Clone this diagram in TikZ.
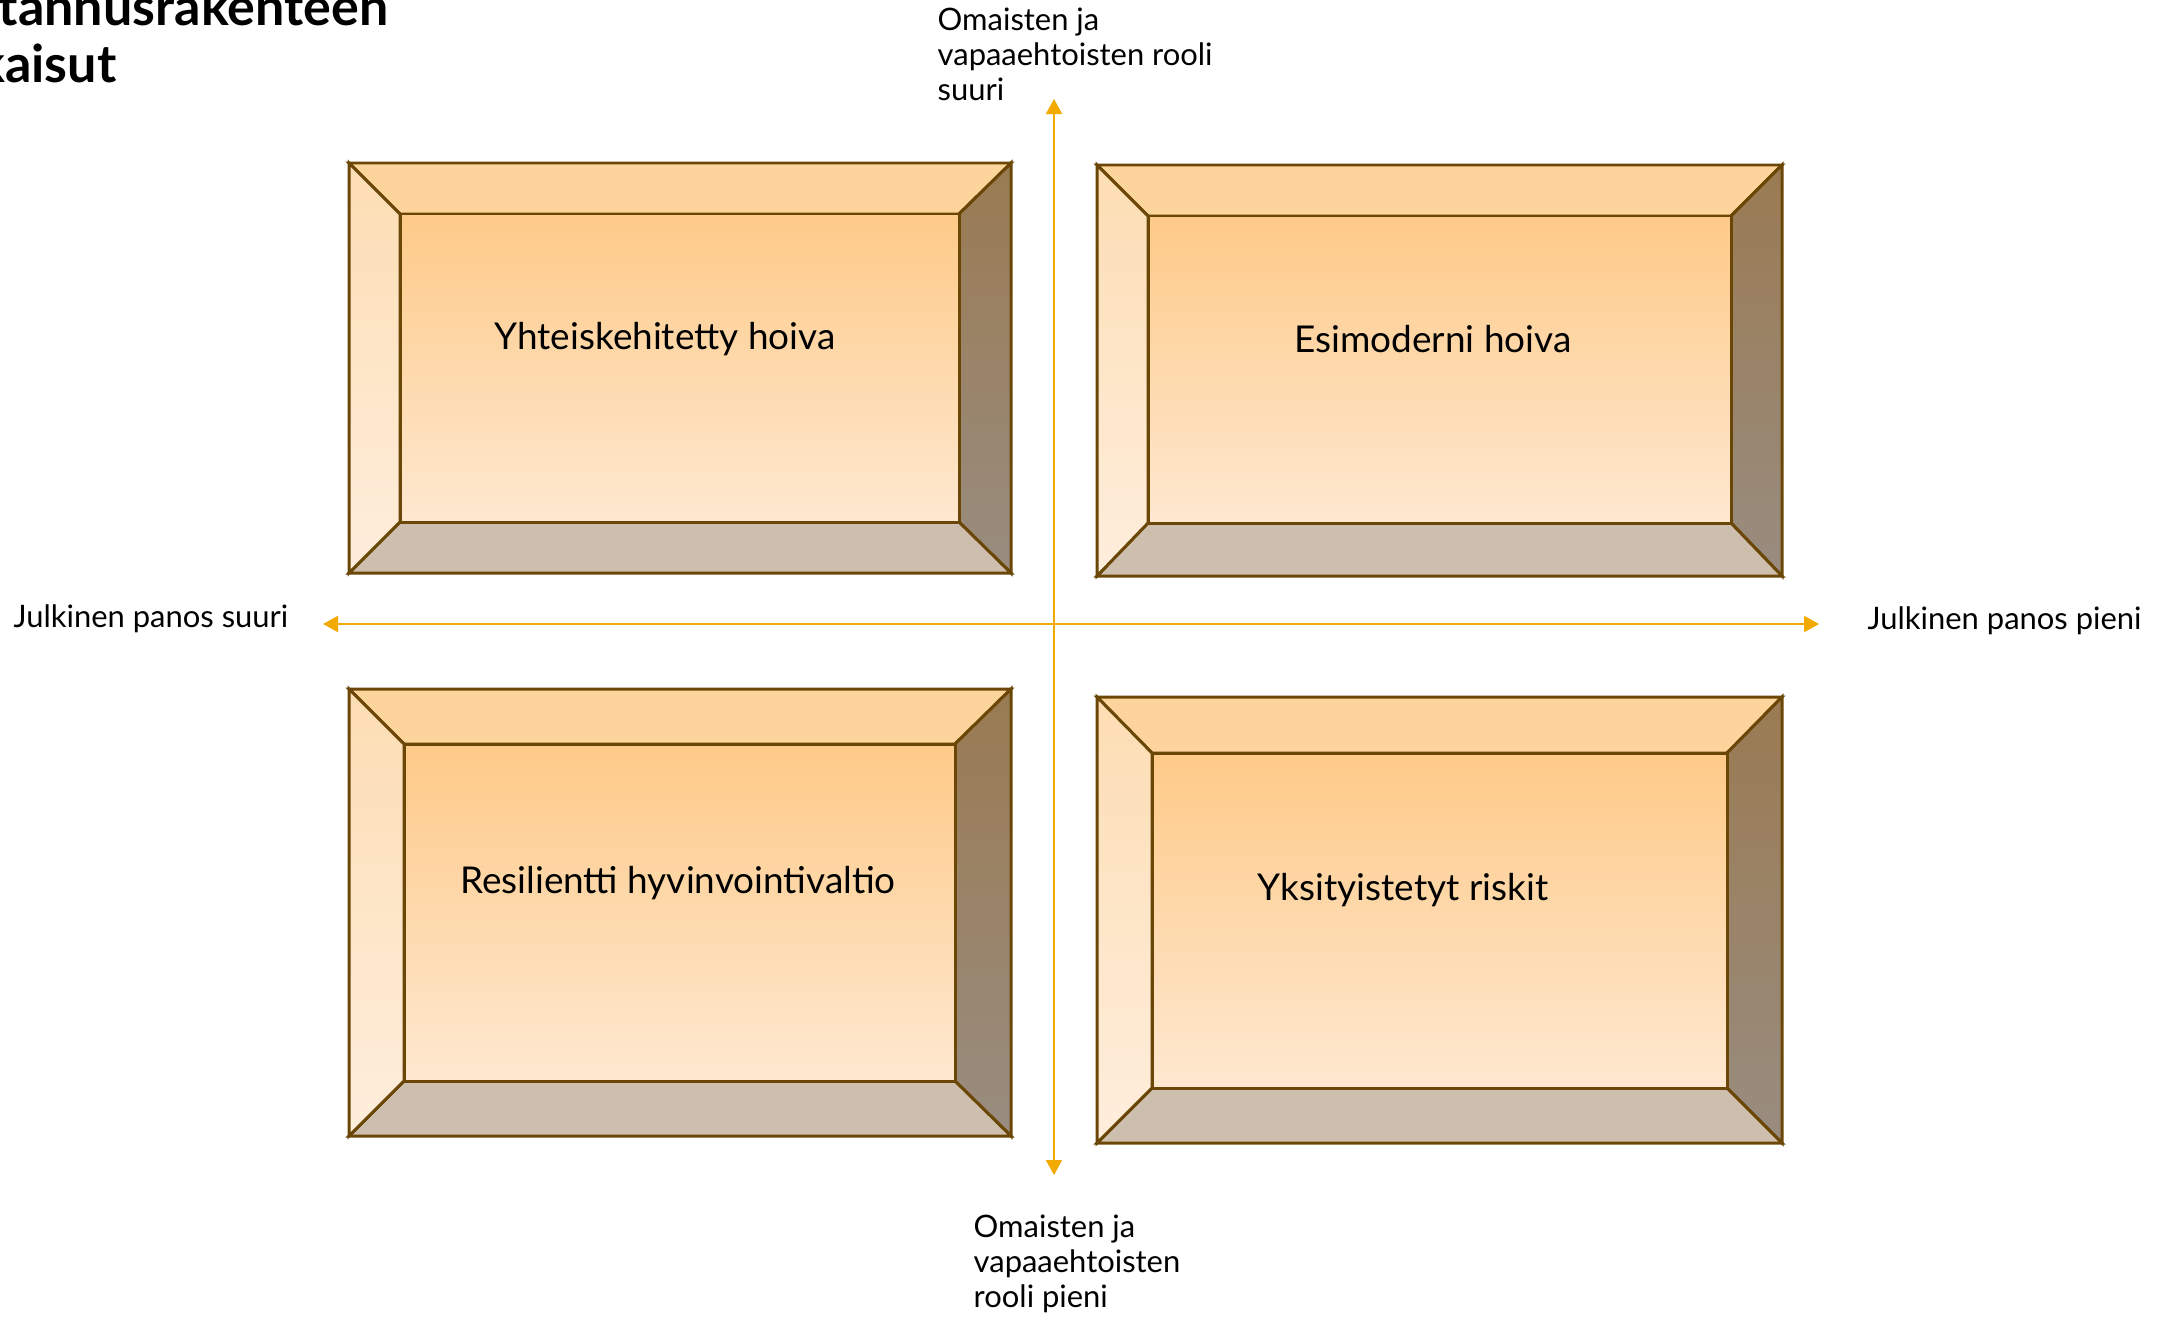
\documentclass[tikz,border=0pt]{standalone}
\usepackage{fontspec}
\setmainfont{Lato}
\usetikzlibrary{arrows.meta}

\definecolor{rim}{HTML}{6A4706}
\definecolor{axis}{HTML}{F2A900}
\definecolor{topface}{HTML}{FDD49B}
\definecolor{botface}{HTML}{CDBEAD}

\tikzset{
  bevel/.style={draw=rim,line width=0.85pt,line join=miter},
  axisline/.style={draw=axis,line width=0.6pt,{Triangle[width=0.16cm,length=0.15cm]}-{Triangle[width=0.16cm,length=0.15cm]}},
  axislabel/.style={font=\fontsize{8.8}{9.95}\selectfont,align=left,inner sep=0pt,anchor=base west},
  boxlabel/.style={font=\fontsize{10.5}{12}\selectfont,inner sep=0pt}
}

% outer x1,y1,x2,y2 then inner x1,y1,x2,y2
\newcommand{\bevelbox}[8]{
  \coordinate (o1) at (#1,#2);
  \coordinate (o2) at (#3,#2);
  \coordinate (o3) at (#3,#4);
  \coordinate (o4) at (#1,#4);
  \coordinate (i1) at (#5,#6);
  \coordinate (i2) at (#7,#6);
  \coordinate (i3) at (#7,#8);
  \coordinate (i4) at (#5,#8);
  \draw[bevel,fill=topface] (o1) -- (o2) -- (i2) -- (i1) -- cycle;
  \shade[top color={rgb,255:red,154;green,123;blue,82},bottom color={rgb,255:red,153;green,140;blue,128}] (o2) -- (o3) -- (i3) -- (i2) -- cycle;
  \draw[bevel] (o2) -- (o3) -- (i3) -- (i2) -- cycle;
  \draw[bevel,fill=botface] (o4) -- (o3) -- (i3) -- (i4) -- cycle;
  \shade[top color={rgb,255:red,253;green,221;blue,179},bottom color={rgb,255:red,254;green,238;blue,221}] (o1) -- (o4) -- (i4) -- (i1) -- cycle;
  \draw[bevel] (o1) -- (o4) -- (i4) -- (i1) -- cycle;
  \shade[top color={rgb,255:red,254;green,202;blue,136},bottom color={rgb,255:red,254;green,232;blue,208}] (i1) rectangle (i3);
  \draw[bevel] (i1) rectangle (i3);
}

\begin{document}
\begin{tikzpicture}[x=0.01cm,y=-0.01cm]
  \useasboundingbox (0,0) rectangle (2161,1318);

  % title, cut at the left edge
  \node[font=\bfseries\fontsize{14.8}{15}\selectfont,inner sep=0pt,anchor=base west] (title1) at (-2,25) {tannusrakenteen};
  \node[font=\bfseries\fontsize{14.8}{15}\selectfont,inner sep=0pt,anchor=base east] (title2) at (117,82) {kaisut};

  % quadrants
  \bevelbox{349}{163}{1011}{573}{400}{214}{959}{522}
  \bevelbox{1097}{165}{1782}{576}{1148}{216}{1731}{523}
  \bevelbox{349}{689}{1011}{1136}{404}{744}{955}{1081}
  \bevelbox{1097}{697}{1782}{1143}{1152}{753}{1727}{1088}

  \node[boxlabel] (coop) at (665,339) {Yhteiskehitetty hoiva};
  \node[boxlabel] (premod) at (1433,339) {Esimoderni hoiva};
  \node[boxlabel] (resil) at (678,883) {Resilientti hyvinvointivaltio};
  \node[boxlabel] (priv) at (1403,890) {Yksityistetyt riskit};

  % axes
  \coordinate (top) at (1054,99);
  \coordinate (bot) at (1054,1175);
  \coordinate (left) at (323,624);
  \coordinate (right) at (1819,624);
  \draw[axisline] (bot) -- (top);
  \draw[axisline] (left) -- (right);

  \node[axislabel] (hi) at (937,100) {Omaisten ja\\vapaaehtoisten rooli\\suuri};
  \node[axislabel] (lo) at (973,1307) {Omaisten ja\\vapaaehtoisten\\rooli pieni};
  \node[axislabel] (big) at (13,627) {Julkinen panos suuri};
  \node[axislabel] (small) at (1867,629) {Julkinen panos pieni};
\end{tikzpicture}
\end{document}
